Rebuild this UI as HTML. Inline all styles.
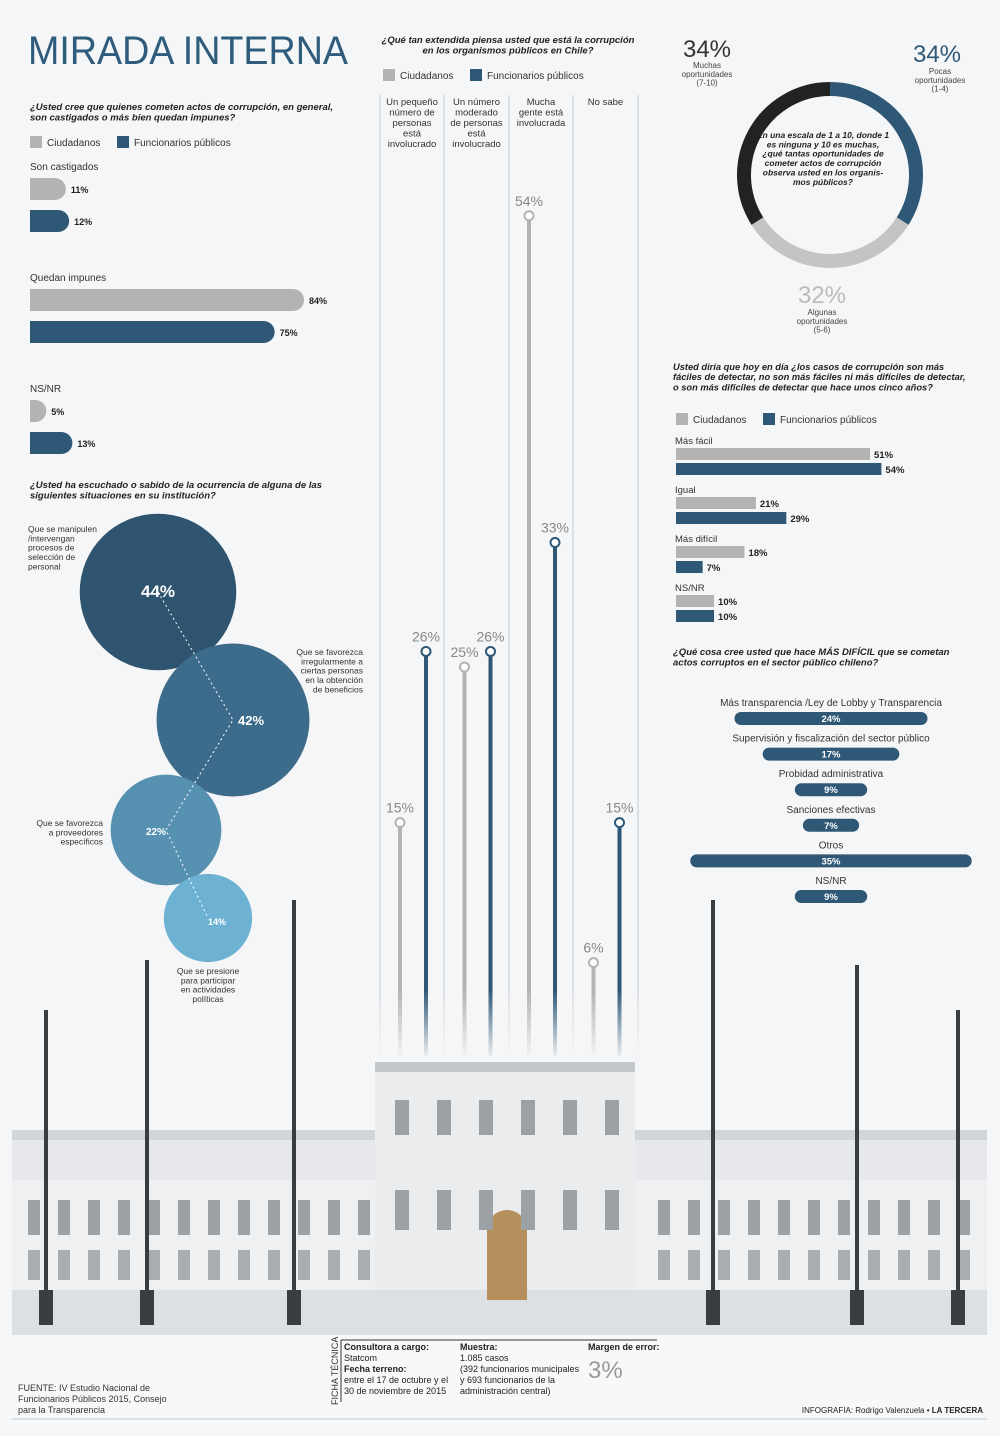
<!DOCTYPE html>
<html><head><meta charset="utf-8"><style>
body{margin:0;width:1000px;height:1431px;overflow:hidden;background:#f5f6f7;font-family:"Liberation Sans",sans-serif}
svg text{font-family:"Liberation Sans",sans-serif}
</style></head><body>
<svg id="s" width="1000" height="1431" viewBox="0 0 1000 1431" xmlns="http://www.w3.org/2000/svg">
<defs>
<linearGradient id="fade" x1="0" y1="0" x2="0" y2="1"><stop offset="0" stop-color="#f5f6f7" stop-opacity="0"/><stop offset="1" stop-color="#f5f6f7" stop-opacity="1"/></linearGradient>
</defs>
<rect width="1000" height="1431" fill="#f5f6f7"/>
<text x="28" y="64" font-size="40" fill="#2f5c7c" textLength="320" lengthAdjust="spacingAndGlyphs">MIRADA INTERNA</text>

<g id="building">
<rect x="12" y="1130" width="975" height="10" fill="#d3d6d9"/>
<rect x="12" y="1140" width="975" height="40" fill="#e6e8eb"/>
<rect x="12" y="1180" width="975" height="120" fill="#eef0f2"/>
<rect x="375" y="1070" width="260" height="230" fill="#eaecee"/>
<rect x="375" y="1062" width="260" height="10" fill="#c4c8cc"/>
<rect x="12" y="1290" width="975" height="45" fill="#dde0e3"/>
<path d="M487 1300 V1230 A20 20 0 0 1 527 1230 V1300 Z" fill="#b58f5c"/>
</g>

<g id="root"></g>
<rect x="0" y="1335" width="1000" height="96" fill="#f7f8f9"/>
<rect x="12" y="1418" width="975" height="2" fill="#dde0e3"/>
<text x="18" y="1391" font-size="9" fill="#333"><tspan x="18">FUENTE: IV Estudio Nacional de</tspan><tspan x="18" dy="11">Funcionarios Públicos 2015, Consejo</tspan><tspan x="18" dy="11">para la Transparencia</tspan></text>
<text x="338" y="1405" font-size="9" fill="#333" transform="rotate(-90 338 1405)">FICHA TÉCNICA</text>
<line x1="341" y1="1340" x2="341" y2="1402" stroke="#333"/>
<line x1="341" y1="1340" x2="657" y2="1340" stroke="#333"/>
<text x="344" y="1350" font-size="9" fill="#222"><tspan font-weight="bold">Consultora a cargo:</tspan><tspan x="344" dy="11">Statcom</tspan><tspan x="344" dy="11" font-weight="bold">Fecha terreno:</tspan><tspan x="344" dy="11">entre el 17 de octubre y el</tspan><tspan x="344" dy="11">30 de noviembre de 2015</tspan></text>
<text x="460" y="1350" font-size="9" fill="#222"><tspan font-weight="bold">Muestra:</tspan><tspan x="460" dy="11">1.085 casos</tspan><tspan x="460" dy="11">(392 funcionarios municipales</tspan><tspan x="460" dy="11">y 693 funcionarios de la</tspan><tspan x="460" dy="11">administración central)</tspan></text>
<text x="588" y="1350" font-size="9" font-weight="bold" fill="#222">Margen de error:</text>
<text x="588" y="1378" font-size="24" fill="#999">3%</text>
<text x="983" y="1413" font-size="8" fill="#222" text-anchor="end">INFOGRAFIA: Rodrigo Valenzuela • <tspan font-weight="bold">LA TERCERA</tspan></text>
</svg>
<script>
const NS="http://www.w3.org/2000/svg";
const root=document.getElementById('root');
const bld=document.getElementById('building');
function mk(tag,a,p){const e=document.createElementNS(NS,tag);for(const k in a)e.setAttribute(k,a[k]);(p||root).appendChild(e);return e;}
function tx(x,y,str,size,fill,extra){const lines=str.split('\n');const e=mk('text',Object.assign({x:x,y:y,'font-size':size,fill:fill},extra||{}));lines.forEach((l,i)=>{const t=mk('tspan',{x:x,dy:i?size*1.1:0},e);t.textContent=l;});return e;}

const q1Cats=["Son castigados","Quedan impunes","NS/NR"];
const q1Ciud=[11,84,5];
const q1Func=[12,75,13];
const q2Cats=["Un pequeño\nnúmero de\npersonas\nestá\ninvolucrado","Un número\nmoderado\nde personas\nestá\ninvolucrado","Mucha\ngente está\ninvolucrada","No sabe"];
const q2Ciud=[15,25,54,6];
const q2Func=[26,26,33,15];
const q3Labels=["Que se manipulen\n/intervengan\nprocesos de\nselección de\npersonal","Que se favorezca\nirregularmente a\nciertas personas\nen la obtención\nde beneficios","Que se favorezca\na proveedores\nespecíficos","Que se presione\npara participar\nen actividades\npolíticas"];
const q3Vals=[44,42,22,14];
const q4Labels=["Pocas\noportunidades\n(1-4)","Algunas\noportunidades\n(5-6)","Muchas\noportunidades\n(7-10)"];
const q4Vals=[34,32,34];
const q5Cats=["Más fácil","Igual","Más difícil","NS/NR"];
const q5Ciud=[51,21,18,10];
const q5Func=[54,29,7,10];
const q6Cats=["Más transparencia /Ley de Lobby y Transparencia","Supervisión y fiscalización del sector público","Probidad administrativa","Sanciones efectivas","Otros","NS/NR"];
const q6Vals=[24,17,9,7,35,9];

const GREY="#b3b3b3",BLUE="#2f5877";

const lampX=[46,147,294,713,857,958];
const lampTop=[1010,960,900,900,965,1010];
for(let i=0;i<32;i++){const wx=28+i*30;if(wx>370&&wx<640)continue;
 const w=mk('rect',{x:wx,y:1200,width:12,height:35,fill:'#9ca1a6'},bld);
 
 mk('rect',{x:wx,y:1250,width:12,height:30,fill:'#a8adb2'},bld);}
for(let i=0;i<6;i++){mk('rect',{x:395+i*42,y:1100,width:14,height:35,fill:'#9ca1a6'},bld);mk('rect',{x:395+i*42,y:1190,width:14,height:40,fill:'#9ca1a6'},bld);}
lampX.forEach((x,i)=>{const l=mk('rect',{x:x-2,y:lampTop[i],width:4,height:1320-lampTop[i],fill:'#3a3d40'},bld);
 
 mk('rect',{x:x-7,y:1290,width:14,height:35,fill:'#3a3d40'},bld);});

tx(30,110,"¿Usted cree que quienes cometen actos de corrupción, en general,\nson castigados o más bien quedan impunes?",9.5,"#222",{'font-style':'italic','font-weight':'bold'});
function legend(x,y,nm){const a=mk('rect',{x:x,y:y-10,width:12,height:12,fill:GREY});
 tx(x+17,y,"Ciudadanos",10,"#333");
 const b=mk('rect',{x:x+87,y:y-10,width:12,height:12,fill:BLUE});
 tx(x+104,y,"Funcionarios públicos",10,"#333");}
legend(30,146,'q1');
const q1Y=[166,277,388];const q1S=274/84;
q1Cats.forEach((c,i)=>{const y=q1Y[i];tx(30,y+4,c,10,"#333");
 [[q1Ciud[i],GREY,y+12],[q1Func[i],BLUE,y+44]].forEach(([v,col,yy],j)=>{
  const w=v*q1S;const r=mk('path',{d:`M30 ${yy} H${30+w-11} A11 11 0 0 1 ${30+w-11} ${yy+22} H30 Z`,fill:col});
  
  tx(30+Math.max(w,11)+5,yy+15,v+"%",9,"#222",{'font-weight':'bold'});});});

tx(30,488,"¿Usted ha escuchado o sabido de la ocurrencia de alguna de las\nsiguientes situaciones en su institución?",9.5,"#222",{'font-style':'italic','font-weight':'bold'});
const bC=[[158,592],[233,720],[166,830],[208,918]];const bCol=["#2e5470","#3d6b8c","#5791b1","#6db2d2"];
const bFs=[17,13,10,9];
q3Vals.forEach((v,i)=>{const r=11.8*Math.sqrt(v);const c=mk('circle',{cx:bC[i][0],cy:bC[i][1],r:r,fill:bCol[i]});
 });
mk('polyline',{points:bC.map(p=>p.join(',')).join(' '),fill:'none',stroke:'#fff','stroke-dasharray':'2 3','stroke-width':1});
q3Vals.forEach((v,i)=>{tx(bC[i][0]-(i==2?20:i==1?-5:0),bC[i][1]+5+(i==3?2:0),v+"%",bFs[i],"#fff",{'font-weight':'bold','text-anchor':i==0?'middle':'start'});});
tx(28,532,q3Labels[0],8.5,"#333");
tx(363,655,q3Labels[1],8.5,"#333",{'text-anchor':'end'});
tx(103,826,q3Labels[2],8.5,"#333",{'text-anchor':'end'});
tx(208,974,q3Labels[3],8.5,"#333",{'text-anchor':'middle'});

tx(508,43,"¿Qué tan extendida piensa usted que está la corrupción\nen los organismos públicos en Chile?",9.5,"#222",{'font-style':'italic','font-weight':'bold','text-anchor':'middle'});
legend(383,79,'q2');
const colX=[380,444,509,573,638];
colX.forEach(x=>{const l=mk('line',{x1:x,y1:95,x2:x,y2:1060,stroke:'#c8ccd0','stroke-width':1});});
const base=1056,per=15.56;
const yv=v=>base-v*per;
q2Cats.forEach((c,i)=>{const cx=(colX[i]+colX[i+1])/2;tx(cx,105,c,9.5,"#333",{'text-anchor':'middle'});
 [[q2Ciud[i],GREY,cx-12,'ciudadanos'],[q2Func[i],BLUE,cx+14,'funcionarios']].forEach(([v,col,x,nm])=>{
  const l=mk('line',{x1:x,y1:yv(v)+5,x2:x,y2:base,stroke:col,'stroke-width':4});
  const p=mk('circle',{cx:x,cy:yv(v),r:4.5,fill:'#fff',stroke:col,'stroke-width':2});
  tx(x,yv(v)-10,v+"%",14,"#888",{'text-anchor':'middle'});});});
mk('rect',{x:375,y:990,width:265,height:70,fill:'url(#fade)'});

const dc=[830,175],dr=86;let ang=0;const dCol=[BLUE,"#c4c4c4","#222"];
q4Vals.forEach((v,i)=>{const a0=ang,a1=ang+v/100*2*Math.PI;ang=a1;
 const p=(a)=>[dc[0]+dr*Math.sin(a),dc[1]-dr*Math.cos(a)];const s=p(a0),e=p(a1);
 const arc=mk('path',{d:`M${s[0]} ${s[1]} A${dr} ${dr} 0 ${a1-a0>Math.PI?1:0} 1 ${e[0]} ${e[1]}`,fill:'none',stroke:dCol[i],'stroke-width':14});
 });
tx(937,62,q4Vals[0]+"%",24,BLUE,{'text-anchor':'middle'});tx(940,74,q4Labels[0],8,"#444",{'text-anchor':'middle'});
tx(822,303,q4Vals[1]+"%",24,"#bbb",{'text-anchor':'middle'});tx(822,315,q4Labels[1],8,"#444",{'text-anchor':'middle'});
tx(707,57,q4Vals[2]+"%",24,"#333",{'text-anchor':'middle'});tx(707,68,q4Labels[2],8,"#444",{'text-anchor':'middle'});
tx(823,138,"En una escala de 1 a 10, donde 1\nes ninguna y 10 es muchas,\n¿qué tantas oportunidades de\ncometer actos de corrupción\nobserva usted en los organis-\nmos públicos?",8.5,"#222",{'text-anchor':'middle','font-style':'italic','font-weight':'bold'});

tx(673,370,"Usted diría que hoy en día ¿los casos de corrupción son más\nfáciles de detectar, no son más fáciles ni más difíciles de detectar,\no son más difíciles de detectar que hace unos cinco años?",9.3,"#222",{'font-style':'italic','font-weight':'bold'});
legend(676,423,'q5');
const q5S=194/51;
q5Cats.forEach((c,i)=>{const y=441+i*49;tx(675,y+3,c,9.5,"#333");
 [[q5Ciud[i],GREY,y+7,'ciudadanos'],[q5Func[i],BLUE,y+22,'funcionarios']].forEach(([v,col,yy,nm])=>{
  const r=mk('rect',{x:676,y:yy,width:v*q5S,height:12,fill:col});
  tx(676+v*q5S+4,yy+10,v+"%",9.5,"#222",{'font-weight':'bold'});});});

tx(673,655,"¿Qué cosa cree usted que hace MÁS DIFÍCIL que se cometan\nactos corruptos en el sector público chileno?",9.5,"#222",{'font-style':'italic','font-weight':'bold'});
const q6S=193/24;
q6Cats.forEach((c,i)=>{const y=703+i*35.6;tx(831,y+3,c,10,"#333",{'text-anchor':'middle'});
 const w=q6Vals[i]*q6S;const r=mk('rect',{x:831-w/2,y:y+9,width:w,height:13,rx:6.5,fill:BLUE});
 
 tx(831,y+19,q6Vals[i]+"%",9.5,"#fff",{'text-anchor':'middle','font-weight':'bold'});});
</script>
</body></html>
